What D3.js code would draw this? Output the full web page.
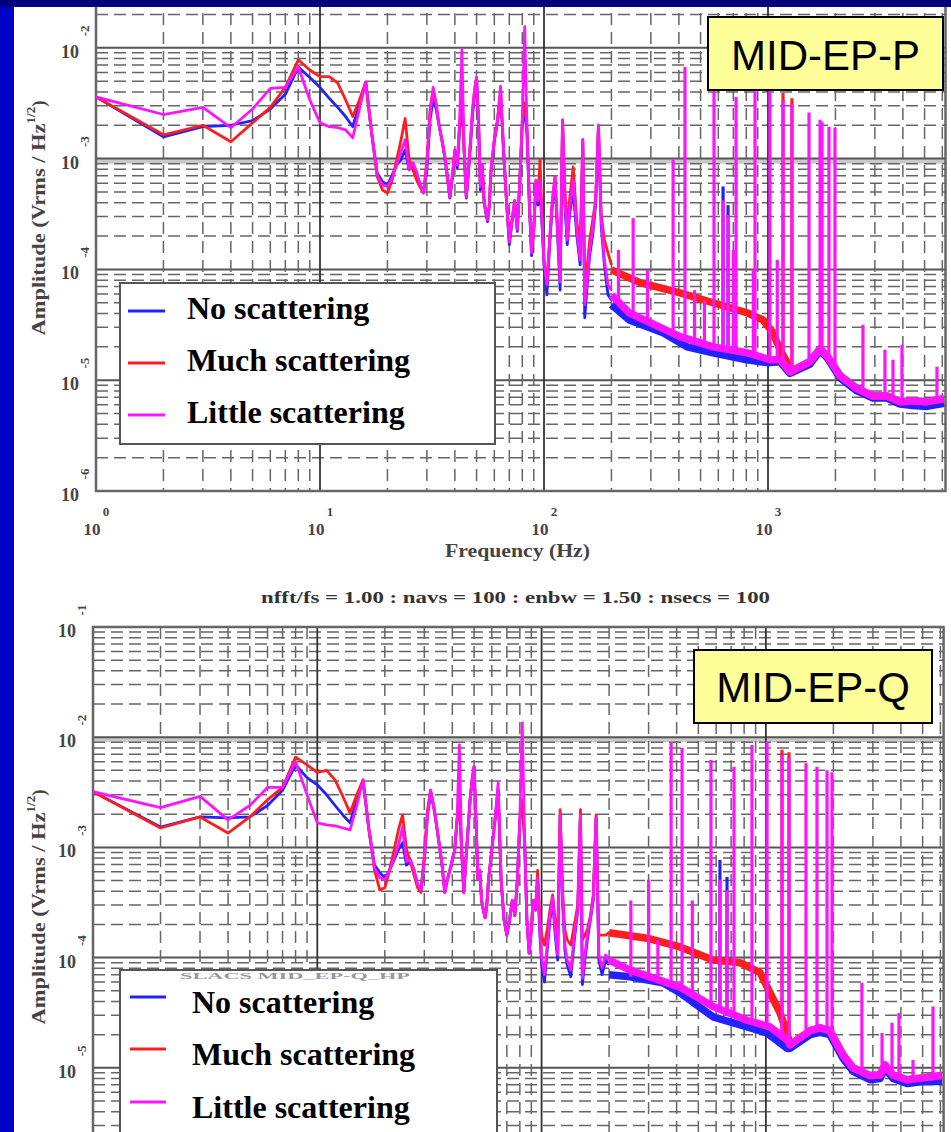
<!DOCTYPE html>
<html>
<head>
<meta charset="utf-8">
<script src="https://cdn.jsdelivr.net/npm/d3@7"></script>
<style>
  body { margin: 0; background: #fff; }
  svg { display: block; }
</style>
</head>
<body>
<div id="chart"></div>
<script>
// frequency bins (Hz) shared by both panels below 200 Hz
var binFreq = [1,2,3,4,5,6,7,8,9,10,11,12,13,14,15,16,17,18,19,20,21,22,23,24,25,26,27,28,29,30,
  31,32,33,34,35,36,37,38,39,40,41,42,43,44,45,46,47,48,49,50,51,52,53,54,55,56,57,58,
  60,62,64,66,68,70,72,74,76,78,80,82,84,86,88,90,92,94,96,98,
  100,103,106,109,112,115,118,121,124,127,130,135,140,145,149,152,156,160,165,170,175,180,186,193,200];

var seriesNames = ["No scattering", "Much scattering", "Little scattering"];
var seriesColors = ["#2222ff", "#ff1e1e", "#ff14ff"];

// ---- MID-EP-P (top) amplitudes, Vrms/sqrt(Hz)
var pNoBins = [
  3.6e-3,1.57e-3,1.94e-3,2.0e-3,2.2e-3,2.8e-3,3.8e-3,6.7e-3,5.4e-3,4.4e-3,
  3.5e-3,2.9e-3,2.4e-3,1.94e-3,3.1e-3,4.9e-3,1.71e-3,7.4e-4,6.2e-4,5.8e-4,
  7.1e-4,8.8e-4,9.8e-4,1.2e-3,7.9e-4,8.8e-4,7.1e-4,5.8e-4,5.0e-4,7.9e-4,
  2.24e-3,3.4e-3,2.8e-3,2.0e-3,1.48e-3,1.04e-3,6.9e-4,4.4e-4,6.7e-4,1.15e-3,
  8.3e-4,1.82e-3,3.4e-3,1.15e-3,4.4e-4,7.6e-4,1.33e-3,2.5e-3,3.8e-3,4.9e-3,
  2.15e-3,5.2e-4,8.3e-4,4.1e-4,3.2e-4,2.7e-4,3.7e-4,7.6e-4,
  1.42e-3,2.15e-3,3.8e-3,1.15e-3,4.1e-4,1.67e-4,2.7e-4,4.1e-4,2.2e-4,6.2e-4,
  2.0e-3,2.8e-3,1.64e-3,3.8e-4,1.33e-4,2.2e-4,5.8e-4,3.8e-4,5.2e-4,2.5e-4,
  1.1e-4,5.9e-5,1.67e-4,3.8e-4,6.4e-4,2.05e-4,6.5e-5,2.0e-3,3.8e-4,1.67e-4,
  3.1e-4,5.2e-4,2.05e-4,1.1e-4,1.33e-3,3.66e-5,7.3e-5,1.35e-4,2.05e-4,3.8e-4,
  1.82e-3,2.5e-4,1.1e-4,5.9e-5,5.3e-5];
var pMuchBins = [
  3.6e-3,1.64e-3,2.0e-3,1.42e-3,2.1e-3,2.9e-3,4.4e-3,7.8e-3,6.3e-3,5.5e-3,
  5.5e-3,4.8e-3,3.4e-3,2.4e-3,3.4e-3,4.9e-3,1.71e-3,6.9e-4,5.2e-4,4.9e-4,
  6.4e-4,9.8e-4,1.48e-3,2.3e-3,9.8e-4,7.9e-4,6.4e-4,5.5e-4,4.9e-4,9.8e-4,
  2.8e-3,4.2e-3,3.1e-3,2.0e-3,1.48e-3,1.08e-3,7.1e-4,4.5e-4,7.1e-4,1.2e-3,
  8.8e-4,2.0e-3,3.8e-3,1.2e-3,4.5e-4,7.9e-4,1.48e-3,2.8e-3,4.2e-3,5.4e-3,
  2.24e-3,5.6e-4,8.8e-4,4.2e-4,3.3e-4,2.8e-4,3.8e-4,7.9e-4,
  1.48e-3,2.24e-3,4.0e-3,1.2e-3,4.2e-4,1.77e-4,2.8e-4,4.2e-4,2.3e-4,6.4e-4,
  2.24e-3,3.2e-3,1.82e-3,4.2e-4,1.41e-4,2.3e-4,6.4e-4,4.2e-4,9.8e-4,2.8e-4,
  1.22e-4,7.3e-5,1.85e-4,4.2e-4,6.9e-4,2.3e-4,8.1e-5,2.24e-3,5.2e-4,2.3e-4,
  4.2e-4,8.4e-4,2.8e-4,1.5e-4,1.48e-3,6.5e-5,1.1e-4,1.85e-4,2.8e-4,4.2e-4,
  2.0e-3,3.1e-4,1.85e-4,1.41e-4,1.1e-4];
var pLittleBins = [
  3.6e-3,2.5e-3,2.9e-3,1.9e-3,2.8e-3,4.3e-3,4.4e-3,6.7e-3,3.4e-3,2.1e-3,
  1.94e-3,1.9e-3,1.82e-3,1.54e-3,2.8e-3,4.9e-3,1.71e-3,7.1e-4,5.8e-4,5.6e-4,
  6.7e-4,8.8e-4,1.15e-3,1.48e-3,7.9e-4,9.2e-4,7.6e-4,5.8e-4,4.9e-4,8.8e-4,
  2.5e-3,4.4e-3,3.1e-3,2.0e-3,1.48e-3,1.08e-3,7.1e-4,4.5e-4,7.1e-4,1.2e-3,
  8.8e-4,2.24e-3,9.6e-3,1.2e-3,4.5e-4,7.9e-4,1.48e-3,2.8e-3,4.2e-3,5.4e-3,
  2.24e-3,5.6e-4,8.8e-4,4.2e-4,3.3e-4,2.8e-4,3.8e-4,7.9e-4,
  1.48e-3,2.24e-3,4.5e-3,1.2e-3,4.2e-4,1.77e-4,2.8e-4,4.2e-4,2.3e-4,6.4e-4,
  2.24e-3,1.55e-2,1.82e-3,4.2e-4,1.41e-4,2.3e-4,6.4e-4,4.2e-4,6.4e-4,2.8e-4,
  1.22e-4,7.3e-5,1.85e-4,4.2e-4,6.9e-4,2.3e-4,7.7e-5,2.24e-3,4.2e-4,1.85e-4,
  3.45e-4,6.4e-4,2.3e-4,1.22e-4,1.48e-3,4.8e-5,8.1e-5,1.5e-4,2.3e-4,4.2e-4,
  2.0e-3,2.8e-4,1.22e-4,7.3e-5,6.5e-5];

// noisy floor above 200 Hz: [freq, amplitude]
var pNoBand = [[200,4.8e-5],[240,3.5e-5],[340,2.68e-5],[435,2.0e-5],[568,1.77e-5],[805,1.53e-5],[990,1.44e-5],
  [1132,1.47e-5],[1254,1.15e-5],[1540,1.4e-5],[1708,1.85e-5],[1834,1.6e-5],[2095,1.05e-5],[2495,8.0e-6],
  [2943,6.9e-6],[3397,6.9e-6],[3882,6.1e-6],[4437,5.9e-6],[5126,5.8e-6],[6100,6.2e-6]];
var pMuchBand = [[200,9.9e-5],[268,7.6e-5],[405,6.15e-5],[568,5.0e-5],[805,4.06e-5],[950,3.5e-5],[1052,2.68e-5],
  [1132,1.88e-5],[1216,1.44e-5],[1254,1.19e-5],[1540,1.47e-5],[1708,1.92e-5],[1834,1.66e-5],[2095,1.1e-5],
  [2495,8.4e-6],[2943,7.2e-6],[3397,7.2e-6],[3882,6.4e-6],[4437,6.5e-6],[5126,6.4e-6],[6100,6.8e-6]];
var pLittleBand = [[200,5.9e-5],[240,4.06e-5],[405,2.47e-5],[568,2.0e-5],[805,1.77e-5],[1020,1.53e-5],[1132,1.53e-5],
  [1254,1.19e-5],[1540,1.47e-5],[1708,1.92e-5],[1834,1.66e-5],[2095,1.1e-5],[2495,8.4e-6],[2943,7.2e-6],
  [3397,7.2e-6],[3882,6.4e-6],[4437,6.5e-6],[5126,6.4e-6],[6100,6.8e-6]];

// line spikes: [freq, floor, peak]
var pLittleSpikes = [[215,5.3e-5,1.5e-4],[250,3.9e-5,2.9e-4],[290,3.5e-5,9.9e-5],[377,2.85e-5,9.8e-4],
  [426,2.57e-5,6.7e-3],[470,2.32e-5,6.5e-5],[520,2.09e-5,5.3e-5],[574,2.0e-5,1.18e-2],[630,2.0e-5,4.2e-4],
  [663,2.0e-5,3.1e-4],[700,1.88e-5,1.5e-4],[720,1.88e-5,3.6e-3],[860,1.7e-5,9.9e-5],[875,1.7e-5,4.2e-3],
  [1020,1.53e-5,4.2e-3],[1100,1.47e-5,1.22e-4],[1167,1.38e-5,3.4e-3],[1279,1.24e-5,3.1e-3],[1524,1.44e-5,2.6e-3],
  [1708,1.88e-5,2.24e-3],[1742,1.8e-5,2.15e-3],[1871,1.63e-5,1.94e-3],[1990,1.38e-5,1.9e-3],
  [2654,7.9e-6,3.16e-5],[3327,7.1e-6,1.88e-5],[3614,6.9e-6,1.53e-5],[3963,6.25e-6,2.09e-5],[5680,6.4e-6,1.32e-5]];
var pNoSpikes = [[630,1.88e-5,5.6e-4],[663,1.88e-5,3.8e-4]];
var pMuchSpikes = [[1167,1.38e-5,3.9e-3],[1279,1.24e-5,3.5e-3]];

// ---- MID-EP-Q (bottom)
var qNoBins = [
  3.2e-3,1.53e-3,1.89e-3,1.85e-3,1.89e-3,2.4e-3,3.3e-3,5.6e-3,4.3e-3,3.7e-3,
  3.0e-3,2.4e-3,1.97e-3,1.67e-3,2.7e-3,3.9e-3,1.44e-3,6.9e-4,5.9e-4,5.3e-4,
  6.2e-4,7.7e-4,9.5e-4,1.1e-3,6.9e-4,7.7e-4,6.2e-4,4.6e-4,4.1e-4,7.7e-4,
  1.97e-3,3.0e-3,2.4e-3,1.6e-3,1.05e-3,6.9e-4,3.9e-4,5.1e-4,6.2e-4,7.7e-4,
  9.5e-4,1.78e-3,2.7e-3,9.5e-4,3.9e-4,7.7e-4,1.44e-3,2.7e-3,4.1e-3,5.4e-3,
  1.78e-3,5.1e-4,6.2e-4,3.3e-4,2.7e-4,2.3e-4,3.0e-4,5.1e-4,
  9.5e-4,1.78e-3,3.3e-3,5.1e-4,2.2e-4,1.6e-4,2.2e-4,3.3e-4,2.4e-4,5.1e-4,
  1.78e-3,2.7e-3,1.17e-3,2.2e-4,1.1e-4,1.8e-4,3.3e-4,2.7e-4,5.1e-4,1.8e-4,
  8.6e-5,6.0e-5,1.18e-4,2.2e-4,3.3e-4,1.6e-4,9.5e-5,1.97e-3,3.3e-4,1.18e-4,
  8.6e-5,6.7e-5,1.45e-4,2.7e-4,1.97e-3,5.7e-5,9.5e-5,1.45e-4,2.2e-4,3.3e-4,
  1.85e-3,9.5e-5,7.0e-5,9.5e-5,8.6e-5];
var qMuchBins = [
  3.2e-3,1.5e-3,1.89e-3,1.35e-3,1.89e-3,2.7e-3,3.5e-3,6.6e-3,5.6e-3,4.8e-3,
  5.0e-3,4.1e-3,2.9e-3,2.06e-3,3.0e-3,4.1e-3,1.44e-3,6.2e-4,4.1e-4,4.3e-4,
  6.2e-4,9.5e-4,1.44e-3,1.97e-3,9.5e-4,7.4e-4,5.6e-4,4.3e-4,3.9e-4,8.6e-4,
  2.2e-3,3.3e-3,2.4e-3,1.6e-3,1.05e-3,6.9e-4,3.9e-4,5.1e-4,6.2e-4,7.7e-4,
  9.5e-4,1.78e-3,2.7e-3,9.5e-4,3.9e-4,7.7e-4,1.44e-3,2.7e-3,4.1e-3,5.4e-3,
  1.78e-3,5.1e-4,6.2e-4,3.3e-4,2.7e-4,2.3e-4,3.0e-4,5.1e-4,
  9.5e-4,1.78e-3,3.3e-3,5.1e-4,2.2e-4,1.6e-4,2.2e-4,3.3e-4,2.4e-4,5.1e-4,
  1.78e-3,2.7e-3,1.17e-3,2.2e-4,1.1e-4,1.8e-4,3.3e-4,2.7e-4,6.2e-4,2.4e-4,
  1.6e-4,1.3e-4,1.8e-4,2.7e-4,3.7e-4,2.2e-4,1.6e-4,2.2e-3,4.1e-4,1.8e-4,
  1.45e-4,1.3e-4,2.0e-4,3.0e-4,2.2e-3,1.45e-4,1.6e-4,1.8e-4,2.4e-4,3.7e-4,
  1.97e-3,1.6e-4,1.6e-4,1.6e-4,1.68e-4];
var qLittleBins = [
  3.2e-3,2.3e-3,2.9e-3,1.78e-3,2.4e-3,3.5e-3,3.5e-3,6.0e-3,3.0e-3,1.67e-3,
  1.6e-3,1.57e-3,1.5e-3,1.44e-3,2.4e-3,4.1e-3,1.44e-3,6.5e-4,5.3e-4,5.1e-4,
  6.2e-4,8.0e-4,1.05e-3,1.53e-3,7.4e-4,7.7e-4,6.2e-4,4.6e-4,4.1e-4,7.7e-4,
  1.97e-3,3.3e-3,2.4e-3,1.6e-3,1.05e-3,6.9e-4,3.9e-4,5.1e-4,6.2e-4,7.7e-4,
  9.5e-4,1.78e-3,8.5e-3,9.5e-4,3.9e-4,7.7e-4,1.44e-3,2.7e-3,4.1e-3,5.4e-3,
  1.78e-3,5.1e-4,6.2e-4,3.3e-4,2.7e-4,2.3e-4,3.0e-4,5.1e-4,
  9.5e-4,1.78e-3,3.85e-3,5.1e-4,2.2e-4,1.6e-4,2.2e-4,3.3e-4,2.4e-4,5.1e-4,
  1.78e-3,1.35e-2,1.17e-3,2.2e-4,1.1e-4,1.8e-4,3.3e-4,2.7e-4,5.3e-4,2.0e-4,
  1.0e-4,7.0e-5,1.3e-4,2.4e-4,3.5e-4,1.8e-4,1.06e-4,1.97e-3,3.5e-4,1.3e-4,
  9.5e-5,7.7e-5,1.6e-4,2.8e-4,1.97e-3,6.5e-5,1.06e-4,1.6e-4,2.3e-4,3.5e-4,
  1.85e-3,1.06e-4,8.1e-5,1.06e-4,9.5e-5];

var qNoBand = [[200,7.0e-5],[248,6.7e-5],[347,5.9e-5],[414,4.8e-5],[581,2.9e-5],[824,2.35e-5],[1012,2.07e-5],
  [1243,1.5e-5],[1280,1.5e-5],[1574,2.0e-5],[1743,2.1e-5],[1930,2.0e-5],[2206,1.22e-5],[2446,9.3e-6],
  [2911,7.8e-6],[3227,8.0e-6],[3397,9.9e-6],[3688,8.0e-6],[4256,7.2e-6],[5012,7.5e-6],[6100,7.5e-6]];
var qMuchBand = [[200,1.68e-4],[295,1.5e-4],[414,1.25e-4],[581,9.5e-5],[767,9.0e-5],[942,7.3e-5],[1043,4.8e-5],
  [1156,3.15e-5],[1243,2.07e-5],[1280,1.62e-5],[1574,2.17e-5],[1743,2.3e-5],[1930,2.17e-5],[2206,1.31e-5],
  [2446,1.0e-5],[2911,8.5e-6],[3227,8.6e-6],[3397,1.06e-5],[3688,8.6e-6],[4256,7.8e-6],[5012,8.1e-6],[6100,8.5e-6]];
var qLittleBand = [[200,9.5e-5],[248,7.7e-5],[414,5.4e-5],[581,3.6e-5],[824,2.7e-5],[1043,2.35e-5],[1243,1.8e-5],
  [1280,1.62e-5],[1574,2.17e-5],[1743,2.3e-5],[1930,2.17e-5],[2206,1.31e-5],[2446,1.0e-5],[2911,8.5e-6],
  [3227,8.6e-6],[3397,1.06e-5],[3688,8.6e-6],[4256,7.8e-6],[5012,8.1e-6],[6100,8.5e-6]];

var qLittleSpikes = [[250,6.7e-5,3.3e-4],[300,6.3e-5,5.1e-4],[330,5.9e-5,1.45e-4],[378,5.7e-5,8.9e-3],
  [423,5.1e-5,8.0e-3],[470,4.6e-5,3.3e-4],[569,3.7e-5,6.2e-3],[624,3.4e-5,5.1e-4],[671,3.2e-5,4.1e-4],
  [721,3.0e-5,5.4e-3],[867,2.7e-5,8.5e-3],[1012,2.35e-5,9.1e-3],[1180,1.8e-5,6.9e-3],[1268,1.62e-5,6.5e-3],
  [1510,2.07e-5,5.8e-3],[1690,2.2e-5,5.4e-3],[1874,2.17e-5,5.0e-3],[1972,2.0e-5,4.8e-3],
  [2680,9.6e-6,5.9e-5],[3296,8.3e-6,2.07e-5],[3650,8.6e-6,2.56e-5],[3920,8.1e-6,3.15e-5],[4530,7.8e-6,1.18e-5],
  [5560,8.1e-6,3.6e-5]];
var qNoSpikes = [[624,3.2e-5,7.7e-4],[671,3.1e-5,5.4e-4]];
var qMuchSpikes = [[1180,1.8e-5,7.7e-3],[1268,1.62e-5,7.3e-3]];

var freqDomain = [1, 6200],
    ampDomain = [1e-6, 1e-1];

var width = 951, height = 1132;
var serif = "'Liberation Serif', 'Times New Roman', serif",
    sans = "'Liberation Sans', Arial, sans-serif";

var panels = [
  { left: 96, right: 945.5, top: -63, bottom: 491, shade: 1e-3, titleY: 218,
    bins: [pNoBins, pMuchBins, pLittleBins], bands: [pNoBand, pMuchBand, pLittleBand],
    spikes: [pNoSpikes, pMuchSpikes, pLittleSpikes],
    legend: {x: 120, y: 283, w: 375, h: 161, x1: 128, x2: 165, tx: 187, rows: [311, 363, 415], dy: 8},
    tag: {text: "MID-EP-P", x: 708, y: 17, w: 235, h: 73, base: 70} },
  { left: 93, right: 943.6, top: 627, bottom: 1178, shade: 1e-2, titleY: 907,
    bins: [qNoBins, qMuchBins, qLittleBins], bands: [qNoBand, qMuchBand, qLittleBand],
    spikes: [qNoSpikes, qMuchSpikes, qLittleSpikes],
    title: "nfft/fs = 1.00 : navs = 100 : enbw = 1.50 : nsecs = 100",
    ghost: "SLACS MID_EP-Q_HP",
    legend: {x: 120, y: 970, w: 377, h: 200, x1: 130, x2: 166, tx: 192, rows: [997, 1049, 1102], dy: 16},
    tag: {text: "MID-EP-Q", x: 694, y: 650, w: 238, h: 73, base: 702} }
];

var svg = d3.select("#chart").append("svg")
    .attr("width", width)
    .attr("height", height);

svg.append("rect")
    .attr("width", width)
    .attr("height", height)
    .attr("fill", "#fff");

var isDecade = v => Math.abs(Math.log10(v) - Math.round(Math.log10(v))) < 1e-6;

panels.forEach(drawPanel);

// slide background showing round the pasted plots
svg.append("rect")
    .attr("x", 0).attr("y", 0)
    .attr("width", 14).attr("height", height)
    .attr("fill", "#0000c6");
svg.append("rect")
    .attr("x", 0).attr("y", 0)
    .attr("width", width).attr("height", 7)
    .attr("fill", "#00007c");

function drawPanel(p, pi) {
  var x = d3.scaleLog().domain(freqDomain).range([p.left, p.right]);
  var y = d3.scaleLog().domain(ampDomain).range([p.bottom, p.top]);

  var g = svg.append("g");
  var clipId = "plotclip" + pi;
  g.append("clipPath").attr("id", clipId)
    .append("rect")
      .attr("x", p.left).attr("y", p.top)
      .attr("width", p.right - p.left)
      .attr("height", p.bottom - p.top);

  var grid = g.append("g").attr("clip-path", "url(#" + clipId + ")");

  grid.append("rect")
      .attr("x", p.left)
      .attr("width", p.right - p.left)
      .attr("y", y(p.shade))
      .attr("height", y(p.shade * 0.9) - y(p.shade))
      .attr("fill", "#c9c9c9");

  grid.selectAll(".hgrid")
      .data(y.ticks())
    .enter().append("line")
      .attr("x1", p.left).attr("x2", p.right)
      .attr("y1", d => y(d)).attr("y2", d => y(d))
      .attr("stroke", d => isDecade(d) ? "#555" : "#666")
      .attr("stroke-width", d => isDecade(d) ? 2 : 1.5)
      .attr("stroke-dasharray", d => isDecade(d) ? null : "12,6");

  grid.selectAll(".vgrid")
      .data(x.ticks())
    .enter().append("line")
      .attr("y1", p.top).attr("y2", p.bottom)
      .attr("x1", d => x(d)).attr("x2", d => x(d))
      .attr("stroke", d => isDecade(d) ? "#333" : "#666")
      .attr("stroke-width", d => isDecade(d) ? 1.8 : 1.5)
      .attr("stroke-dasharray", d => isDecade(d) ? null : "12,7");

  g.append("rect")
      .attr("x", p.left).attr("y", p.top)
      .attr("width", p.right - p.left)
      .attr("height", p.bottom - p.top)
      .attr("fill", "none")
      .attr("stroke", "#666")
      .attr("stroke-width", 2.5);

  var plot = g.append("g").attr("clip-path", "url(#" + clipId + ")");
  var line = d3.line()
      .x(d => x(d[0]))
      .y(d => y(d[1]));

  p.bins.forEach(function(amps, si) {
    var pts = binFreq.map((f, i) => [f, amps[i]]);
    var s = plot.append("g")
        .attr("fill", "none")
        .attr("stroke", seriesColors[si])
        .attr("stroke-linejoin", "round");

    s.append("path")
        .datum(pts)
        .attr("d", line)
        .attr("stroke-width", 2.8);

    s.append("path")
        .datum(p.bands[si])
        .attr("d", line)
        .attr("stroke-width", 7.5);

    s.selectAll(".spike")
        .data(p.spikes[si])
      .enter().append("line")
        .attr("x1", d => x(d[0])).attr("x2", d => x(d[0]))
        .attr("y1", d => y(d[1])).attr("y2", d => y(d[2]))
        .attr("stroke-width", 3.2);
  });

  // decade labels, only those that land inside the picture
  var yDec = y.ticks().filter(isDecade).filter(d => y(d) > 20 && y(d) + 10 < height),
      xDec = p.bottom + 45 < height ? x.ticks().filter(isDecade) : [];

  var labels = g.append("g")
      .attr("font-family", serif)
      .attr("font-weight", "bold")
      .attr("fill", "#444");

  labels.selectAll(".ylab")
      .data(yDec)
    .enter().append("text")
      .attr("x", p.left - 17)
      .attr("y", d => y(d) + 10)
      .attr("text-anchor", "end")
      .attr("font-size", 18)
      .text("10");

  labels.selectAll(".yexp")
      .data(yDec)
    .enter().append("text")
      .attr("transform", d => "translate(" + (p.left - 12) + "," + (y(d) - 17) + ") rotate(-90)")
      .attr("text-anchor", "middle")
      .attr("dy", "0.35em")
      .attr("font-size", 13)
      .text(d => Math.round(Math.log10(d)));

  labels.selectAll(".xlab")
      .data(xDec)
    .enter().append("text")
      .attr("x", d => x(d) - 4)
      .attr("y", p.bottom + 44)
      .attr("text-anchor", "middle")
      .attr("font-size", 17)
      .text("10");

  labels.selectAll(".xexp")
      .data(xDec)
    .enter().append("text")
      .attr("x", d => x(d) + 10)
      .attr("y", p.bottom + 25)
      .attr("text-anchor", "middle")
      .attr("font-size", 13)
      .text(d => Math.round(Math.log10(d)));

  if (xDec.length) {
    labels.append("text")
        .attr("x", 445)
        .attr("y", p.bottom + 66)
        .attr("font-size", 18)
        .attr("textLength", 145)
        .attr("lengthAdjust", "spacingAndGlyphs")
        .text("Frequency (Hz)");
  }

  var yt = labels.append("text")
      .attr("transform", "translate(45," + p.titleY + ") rotate(-90)")
      .attr("text-anchor", "middle")
      .attr("font-size", 19);
  yt.append("tspan")
      .attr("textLength", 212)
      .attr("lengthAdjust", "spacingAndGlyphs")
      .text("Amplitude (Vrms / Hz");
  yt.append("tspan").attr("dy", -10).attr("font-size", 13).text("1/2");
  yt.append("tspan").attr("dy", 10).text(")");

  if (p.title) {
    labels.append("text")
        .attr("x", 261)
        .attr("y", p.top - 24)
        .attr("font-size", 17)
        .attr("textLength", 509)
        .attr("lengthAdjust", "spacingAndGlyphs")
        .attr("fill", "#333")
        .text(p.title);
  }

  // legend
  var L = p.legend;
  var lg = g.append("g");
  lg.append("rect")
      .attr("x", L.x).attr("y", L.y)
      .attr("width", L.w).attr("height", L.h)
      .attr("fill", "#fff")
      .attr("stroke", "#555")
      .attr("stroke-width", 2);

  if (p.ghost) {
    // the plot's own title, almost hidden behind the legend box
    lg.append("text")
        .attr("transform", "translate(180," + (L.y + 9) + ") scale(1,0.38)")
        .attr("font-family", serif)
        .attr("font-weight", "bold")
        .attr("font-size", 22)
        .attr("textLength", 230)
        .attr("lengthAdjust", "spacingAndGlyphs")
        .attr("fill", "#999")
        .text(p.ghost);
  }

  var rows = lg.selectAll(".entry")
      .data(seriesNames)
    .enter().append("g");

  rows.append("line")
      .attr("x1", L.x1).attr("x2", L.x2)
      .attr("y1", (d, i) => L.rows[i]).attr("y2", (d, i) => L.rows[i])
      .attr("stroke", (d, i) => seriesColors[i])
      .attr("stroke-width", 3);

  rows.append("text")
      .attr("x", L.tx)
      .attr("y", (d, i) => L.rows[i] + L.dy)
      .attr("font-family", serif)
      .attr("font-weight", "bold")
      .attr("font-size", 32)
      .attr("fill", "#000")
      .text(d => d);

  // panel tag
  var t = p.tag;
  g.append("rect")
      .attr("x", t.x).attr("y", t.y)
      .attr("width", t.w).attr("height", t.h)
      .attr("fill", "#ffff99")
      .attr("stroke", "#000")
      .attr("stroke-width", 2);
  g.append("text")
      .attr("x", t.x + t.w / 2)
      .attr("y", t.base)
      .attr("text-anchor", "middle")
      .attr("font-family", sans)
      .attr("font-size", 42)
      .attr("fill", "#000")
      .text(t.text);
}
</script>
</body>
</html>
